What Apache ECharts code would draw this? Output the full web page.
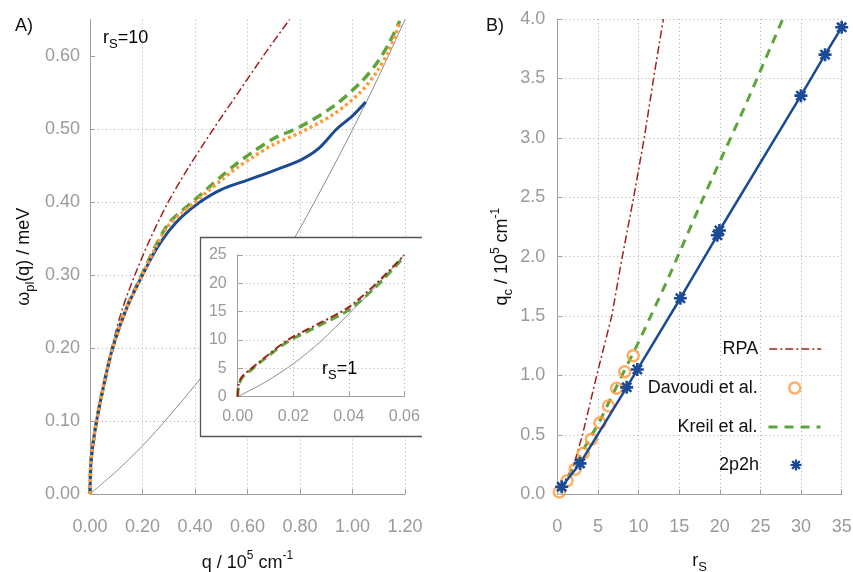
<!DOCTYPE html>
<html>
<head>
<meta charset="utf-8">
<title>Plasmon dispersion and critical wave vector</title>
<script src="https://cdn.jsdelivr.net/npm/echarts@6/dist/echarts.min.js"></script>
<style>
  html, body { margin: 0; padding: 0; background: #fff; }
  #chart { width: 853px; height: 572px; }
</style>
</head>
<body>
<div id="chart"></div>
<script>
// ---- panel A, rs = 10 : [q / 1e5 cm^-1, omega_pl / meV]
const aContinuum = [[0, 0], [0.1, 0.031], [0.2, 0.066], [0.3, 0.106], [0.4, 0.149], [0.5, 0.195], [0.6, 0.246],
  [0.7, 0.303], [0.8, 0.364], [0.9, 0.43], [1.0, 0.499], [1.1, 0.572], [1.2, 0.65]];
const aRpa = [[0, 0], [0.003, 0.04], [0.01, 0.065], [0.025, 0.1], [0.05, 0.145], [0.083, 0.2], [0.12, 0.25],
  [0.171, 0.3], [0.23, 0.35], [0.298, 0.4], [0.38, 0.45], [0.47, 0.5], [0.565, 0.55], [0.66, 0.6], [0.76, 0.65]];
const aKreil = [[0, 0], [0.003, 0.04], [0.01, 0.065], [0.025, 0.1], [0.05, 0.145], [0.086, 0.2], [0.14, 0.256],
  [0.2, 0.302], [0.25, 0.34], [0.3, 0.371], [0.35, 0.388], [0.39, 0.4], [0.45, 0.419], [0.5, 0.435], [0.56, 0.453],
  [0.622, 0.469], [0.7, 0.487], [0.8, 0.503], [0.927, 0.531], [1.029, 0.563], [1.092, 0.59], [1.14, 0.618],
  [1.18, 0.648]];
const aDavoudi = [[0, 0], [0.003, 0.04], [0.01, 0.065], [0.025, 0.1], [0.05, 0.145], [0.086, 0.2], [0.14, 0.255],
  [0.2, 0.3], [0.25, 0.338], [0.3, 0.368], [0.35, 0.385], [0.395, 0.398], [0.45, 0.415], [0.5, 0.43], [0.56, 0.447],
  [0.622, 0.462], [0.7, 0.479], [0.8, 0.495], [0.927, 0.52], [1.029, 0.55], [1.092, 0.578], [1.14, 0.608],
  [1.18, 0.645]];
const a2p2h = [[0, 0], [0.003, 0.04], [0.01, 0.065], [0.025, 0.1], [0.05, 0.145], [0.086, 0.2], [0.14, 0.255],
  [0.2, 0.3], [0.25, 0.334], [0.3, 0.36], [0.35, 0.38], [0.419, 0.4], [0.5, 0.417], [0.6, 0.43], [0.7, 0.443],
  [0.8, 0.457], [0.87, 0.473], [0.94, 0.5], [1.0, 0.518], [1.05, 0.537]];

// ---- inset, rs = 1
const inContinuum = [[0, 0], [0.01, 2.6], [0.02, 5.8], [0.03, 9.8], [0.04, 14.6], [0.05, 19.6], [0.06, 25]];
const inRpa = [[0, 0], [0.0003, 2], [0.0015, 3.5], [0.005, 5], [0.01, 7], [0.018, 10], [0.03, 13.1],
  [0.04, 15.8], [0.05, 20], [0.06, 25]];
const inKreil = [[0, 0], [0.0003, 1.8], [0.0015, 3.3], [0.005, 4.8], [0.01, 6.8], [0.018, 9.7], [0.03, 12.7],
  [0.04, 15.3], [0.05, 19.5], [0.06, 24.7]];

// ---- panel B : [rs, q_c / 1e5 cm^-1]
const bRpa = [[0.3, 0.04], [2, 0.24], [3.1, 0.5], [4.85, 1.0], [6.7, 1.5], [8.0, 2.0], [9.4, 2.5], [10.7, 3.0],
  [11.85, 3.5], [13.05, 4.0]];
const bKreil = [[0.3, 0.03], [2, 0.22], [3.5, 0.41], [5.26, 0.62], [7.6, 0.95], [10, 1.28], [13.47, 1.79],
  [18, 2.5], [23, 3.25], [27.75, 4.0]];
const bDavoudi = [[0.25, 0.02], [1.2, 0.115], [2.2, 0.21], [3.2, 0.345], [4.2, 0.463], [5.25, 0.603],
  [6.3, 0.743], [7.3, 0.892], [8.3, 1.032], [9.35, 1.167]];
const b2p2h = [[0.54, 0.064], [2.8, 0.26], [8.54, 0.9], [9.85, 1.05], [15.15, 1.65], [19.7, 2.18], [19.95, 2.22],
  [29.98, 3.355], [32.95, 3.7], [35, 3.93]];

// tick values
const aXTicks = [0, 0.2, 0.4, 0.6, 0.8, 1.0, 1.2];
const aYTicks = [0, 0.1, 0.2, 0.3, 0.4, 0.5, 0.6];
const bXTicks = [0, 5, 10, 15, 20, 25, 30, 35];
const bYTicks = [0, 0.5, 1.0, 1.5, 2.0, 2.5, 3.0, 3.5, 4.0];
const inXTicks = [0, 0.02, 0.04, 0.06];
const inYTicks = [0, 5, 10, 15, 20, 25];

const FONT = '"Liberation Sans", Arial, sans-serif';
const RED = '#a3201c', GREEN = '#5da53a', ORANGE = '#ff9a3c', BLUE = '#1b4b96', GRAY = '#8c8c8c';
const DASHDOT = [8, 3, 2, 3];
// asterisk like marker (plus + cross)
const STAR = 'path://M-1,-5L1,-5L1,5L-1,5Z M-5,-1L5,-1L5,1L-5,1Z M2.83,4.24L-4.24,-2.83L-2.83,-4.24L4.24,2.83Z M4.24,-2.83L-2.83,4.24L-4.24,2.83L2.83,-4.24Z';

const nameRich = {
  m: { fontSize: 18, lineHeight: 26, color: '#111', fontFamily: FONT },
  sup: { fontSize: 12, lineHeight: 12, verticalAlign: 'top', color: '#111', fontFamily: FONT },
  sub: { fontSize: 13, lineHeight: 13, verticalAlign: 'bottom', color: '#111', fontFamily: FONT }
};

function valueAxis(grid, ticks, digits, fontSize, extra) {
  const min = ticks[0], max = ticks[ticks.length - 1];
  return Object.assign({
    type: 'value', gridIndex: grid, min: min, max: max, interval: ticks[1] - ticks[0],
    axisLine: { show: true, onZero: false, lineStyle: { color: '#a0a0a0', width: 1 } },
    axisTick: { show: true, inside: true, length: 5, lineStyle: { color: '#a0a0a0' } },
    axisLabel: { color: '#9a9a9a', fontSize: fontSize, fontFamily: FONT, formatter: v => v.toFixed(digits) },
    splitLine: { show: true, lineStyle: { color: '#b0b0b0', width: 1, type: [1, 3] } },
    nameTextStyle: { rich: nameRich }
  }, extra);
}

function line(name, data, xi, color, width, type, z, smooth) {
  return {
    name: name, type: 'line', xAxisIndex: xi, yAxisIndex: xi, data: data,
    symbol: 'none', smooth: smooth, z: z, silent: true,
    lineStyle: { color: color, width: width, type: type, cap: 'butt' }, itemStyle: { color: color }
  };
}

function legendFor(item, top, right, extra) {
  return Object.assign({
    selectedMode: false, orient: 'horizontal', align: 'right', right: right, top: top, padding: 0,
    itemWidth: 52, itemHeight: 11,
    textStyle: { fontSize: 18, color: '#111', fontFamily: FONT, padding: [0, 6, 0, 0] },
    data: [item]
  }, extra);
}

const chart = echarts.init(document.getElementById('chart'), null, { renderer: 'canvas' });

const option = {
  animation: false,
  backgroundColor: '#fff',
  grid: [
    { left: 90, top: 19.5, width: 315, height: 474.5, containLabel: false, outerBoundsMode: 'none' },
    { left: 557.3, top: 19, width: 284.4, height: 475.3, containLabel: false, outerBoundsMode: 'none' },
    { left: 237.7, top: 255, width: 166.6, height: 141.7, z: 11, containLabel: false, outerBoundsMode: 'none' }
  ],
  xAxis: [
    valueAxis(0, aXTicks, 2, 18, {
      axisLabel: { color: '#9a9a9a', fontSize: 18, fontFamily: FONT, margin: 24, formatter: v => v.toFixed(2) },
      name: '{m|q / 10}{sup|5}{m| cm}{sup|-1}', nameLocation: 'middle', nameGap: 56
    }),
    valueAxis(1, bXTicks, 0, 18, {
      axisLabel: { color: '#9a9a9a', fontSize: 18, fontFamily: FONT, margin: 24 },
      name: '{m|r}{sub|S}', nameLocation: 'middle', nameGap: 54
    }),
    valueAxis(2, inXTicks, 2, 16, { z: 11, axisLabel: { color: '#9a9a9a', fontSize: 16, fontFamily: FONT, margin: 12, formatter: v => v.toFixed(2) } })
  ],
  yAxis: [
    valueAxis(0, [0, 0.65], 2, 18, {
      interval: 0.1,
      axisLabel: { color: '#9a9a9a', fontSize: 18, fontFamily: FONT, margin: 10, showMaxLabel: false, formatter: v => v.toFixed(2) },
      axisTick: { show: true, inside: true, length: 5, lineStyle: { color: '#a0a0a0' }, customValues: aYTicks },
      splitLine: { show: true, showMaxLine: false, lineStyle: { color: '#b0b0b0', width: 1, type: [1, 3] } },
      name: '{m|ω}{sub|pl}{m|(q) / meV}', nameLocation: 'middle', nameGap: 53, nameRotate: 90
    }),
    valueAxis(1, bYTicks, 1, 18, {
      axisLabel: { color: '#9a9a9a', fontSize: 18, fontFamily: FONT, margin: 12, formatter: v => v.toFixed(1) },
      name: '{m|q}{sub|c}{m| / 10}{sup|5}{m| cm}{sup|-1}', nameLocation: 'middle', nameGap: 42, nameRotate: 90
    }),
    valueAxis(2, inYTicks, 0, 16, { z: 11, axisLabel: { color: '#9a9a9a', fontSize: 16, fontFamily: FONT, margin: 11 } })
  ],
  legend: [
    legendFor({ name: 'RPA', itemStyle: { opacity: 0 } }, 340, 31, { lineStyle: { width: 1.5 } }),
    legendFor({ name: 'Davoudi et al.' }, 379, 51.5, { itemStyle: { borderWidth: 2.5 } }),
    legendFor({ name: 'Kreil et al.', itemStyle: { opacity: 0 } }, 418, 31, { lineStyle: { width: 3 } }),
    legendFor({ name: '2p2h', icon: STAR }, 456, 51.5, { itemStyle: { borderWidth: 0 } })
  ],
  graphic: [
    { type: 'rect', z: 10, shape: { x: 200, y: 237, width: 222, height: 199 }, style: { fill: '#fff' }, silent: true },
    { type: 'polyline', z: 10, shape: { points: [[422, 237.5], [200.5, 237.5], [200.5, 436.5], [422, 436.5]] },
      style: { stroke: '#555', lineWidth: 1.3, fill: null }, silent: true },
    { type: 'text', left: 15, top: 17, style: { text: 'A)', fontSize: 18, fill: '#111', fontFamily: FONT } },
    { type: 'text', left: 486, top: 17, style: { text: 'B)', fontSize: 18, fill: '#111', fontFamily: FONT } },
    { type: 'text', left: 103, top: 29, z: 12, style: { text: '{m|r}{sub|S}{m|=10}', rich: nameRich } },
    { type: 'text', left: 322, top: 360, z: 12, style: { text: '{m|r}{sub|S}{m|=1}', rich: nameRich } }
  ],
  series: [
    // panel B first so that the legends pick these series
    line('RPA', bRpa, 1, RED, 1.5, DASHDOT, 3, false),
    line('Kreil et al.', bKreil, 1, GREEN, 3, [9, 7], 3, false),
    {
      name: 'Davoudi et al.', type: 'scatter', xAxisIndex: 1, yAxisIndex: 1, data: bDavoudi, z: 4,
      symbol: 'circle', symbolSize: 11, silent: true,
      itemStyle: { color: 'rgba(255,255,255,0)', borderColor: ORANGE, borderWidth: 2.5 }
    },
    {
      name: '2p2h', type: 'line', xAxisIndex: 1, yAxisIndex: 1, data: b2p2h, z: 5, silent: true,
      symbol: STAR, symbolSize: 13, showSymbol: true, showAllSymbol: true,
      lineStyle: { color: BLUE, width: 2.5 }, itemStyle: { color: BLUE }
    },
    // panel A
    line('continuum A', aContinuum, 0, GRAY, 1, 'solid', 2, 0.3),
    line('RPA A', aRpa, 0, RED, 1.5, DASHDOT, 2, 0.3),
    line('Kreil A', aKreil, 0, GREEN, 3.5, [10, 6], 3, 0.3),
    line('2p2h A', a2p2h, 0, BLUE, 3, 'solid', 4, 0.3),
    line('Davoudi A', aDavoudi, 0, ORANGE, 3.5, [3, 3], 5, 0.3),
    // inset
    line('continuum in', inContinuum, 2, GRAY, 1, 'solid', 12, 0.3),
    line('Kreil in', inKreil, 2, GREEN, 3, [9, 5], 12, 0.3),
    line('RPA in', inRpa, 2, RED, 2, DASHDOT, 13, 0.3)
  ]
};

chart.setOption(option);
window.addEventListener('resize', () => chart.resize());
</script>
</body>
</html>
